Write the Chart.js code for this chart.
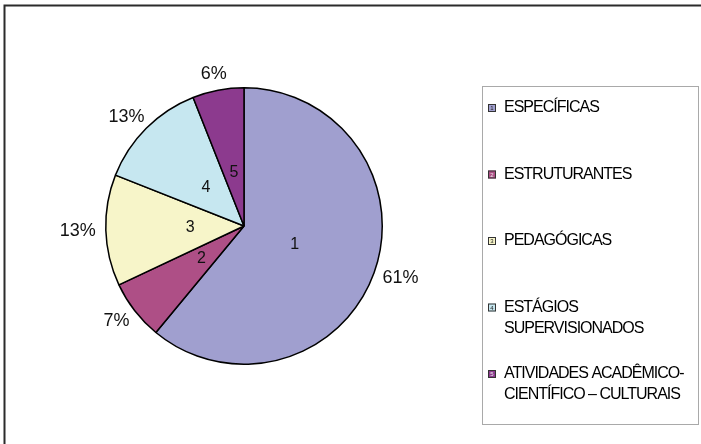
<!DOCTYPE html>
<html>
<head>
<meta charset="utf-8">
<script src="https://cdn.jsdelivr.net/npm/chart.js@4.4.3/dist/chart.umd.min.js"></script>
<style>
  html, body { margin: 0; padding: 0; background: #fff; }
  #chart { display: block; }
</style>
</head>
<body>
<canvas id="chart" width="701" height="444"></canvas>
<script>
// slice data, clockwise from 12 o'clock
const sliceNumbers = ['1', '2', '3', '4', '5'];
const sliceValues = [61, 7, 13, 13, 6];
const sliceColors = ['#a09fcf', '#ae4f86', '#f7f5c9', '#c6e7f0', '#8c3a8e'];
const legendLabels = [
    ['ESPECÍFICAS'],
    ['ESTRUTURANTES'],
    ['PEDAGÓGICAS'],
    ['ESTÁGIOS', 'SUPERVISIONADOS'],
    ['ATIVIDADES ACADÊMICO-', 'CIENTÍFICO – CULTURAIS']
];

const FONT = "'Liberation Sans', Arial, sans-serif";

// outer frame (top + left edge only visible in the original)
const framePlugin = {
    id: 'frame',
    beforeDraw(chart) {
        const ctx = chart.ctx;
        ctx.save();
        ctx.strokeStyle = '#2b2b2b';
        ctx.lineWidth = 2;
        ctx.strokeRect(4.5, 5.5, 800, 800);
        ctx.restore();
    }
};

// numbers inside slices and percentages outside
const sliceLabels = {
    id: 'sliceLabels',
    afterDatasetsDraw(chart) {
        const ctx = chart.ctx;
        const meta = chart.getDatasetMeta(0);
        const total = sliceValues.reduce((a, b) => a + b, 0);
        ctx.save();
        ctx.fillStyle = '#111';
        ctx.textAlign = 'center';
        ctx.textBaseline = 'middle';
        meta.data.forEach((arc, i) => {
            const p = arc.getProps(['x', 'y', 'startAngle', 'endAngle', 'outerRadius'], true);
            const mid = (p.startAngle + p.endAngle) / 2;
            const c = Math.cos(mid), s = Math.sin(mid);

            ctx.font = '16px ' + FONT;
            const ri = p.outerRadius * 0.39;
            ctx.fillText(sliceNumbers[i], p.x + c * ri, p.y + s * ri);

            ctx.font = '18px ' + FONT;
            const txt = Math.round(sliceValues[i] / total * 100) + '%';
            const w = ctx.measureText(txt).width;
            const h = 13;
            const ro = p.outerRadius + 10;
            const lx = p.x + c * ro + c * w / 2;
            const ly = p.y + s * ro + s * h / 2;
            ctx.fillText(txt, lx, ly);
        });
        ctx.restore();
    }
};

// boxed legend on the right
const boxLegend = {
    id: 'boxLegend',
    afterDraw(chart) {
        const ctx = chart.ctx;
        ctx.save();
        ctx.strokeStyle = '#a9a9a9';
        ctx.lineWidth = 1;
        ctx.strokeRect(482.5, 86.5, 216, 338);

        ctx.textBaseline = 'middle';
        legendLabels.forEach((lines, i) => {
            const y0 = 108 + i * 66.5;
            // marker
            ctx.fillStyle = sliceColors[i];
            ctx.fillRect(488, y0 - 4, 8, 8);
            ctx.strokeStyle = '#333';
            ctx.strokeRect(488.5, y0 - 3.5, 7, 7);
            ctx.letterSpacing = '0px';
            ctx.font = '6px ' + FONT;
            ctx.textAlign = 'center';
            ctx.fillStyle = (i === 1 || i === 4) ? '#eee' : '#222';
            ctx.fillText(sliceNumbers[i], 492, y0 + 0.5);
            // text
            ctx.font = '16px ' + FONT;
            ctx.letterSpacing = '-1px';
            ctx.fillStyle = '#000';
            ctx.textAlign = 'left';
            lines.forEach((ln, j) => ctx.fillText(ln, 504, y0 + j * 21));
        });
        ctx.restore();
    }
};

new Chart(document.getElementById('chart'), {
    type: 'pie',
    data: {
        labels: legendLabels.map(l => l.join(' ')),
        datasets: [{
            data: sliceValues,
            backgroundColor: sliceColors,
            borderColor: '#000',
            borderWidth: 1.5
        }]
    },
    options: {
        responsive: false,
        animation: false,
        layout: { padding: { left: 105, right: 318, top: 87, bottom: 79 } },
        plugins: {
            legend: { display: false },
            tooltip: { enabled: false }
        }
    },
    plugins: [framePlugin, sliceLabels, boxLegend]
});
</script>
</body>
</html>
